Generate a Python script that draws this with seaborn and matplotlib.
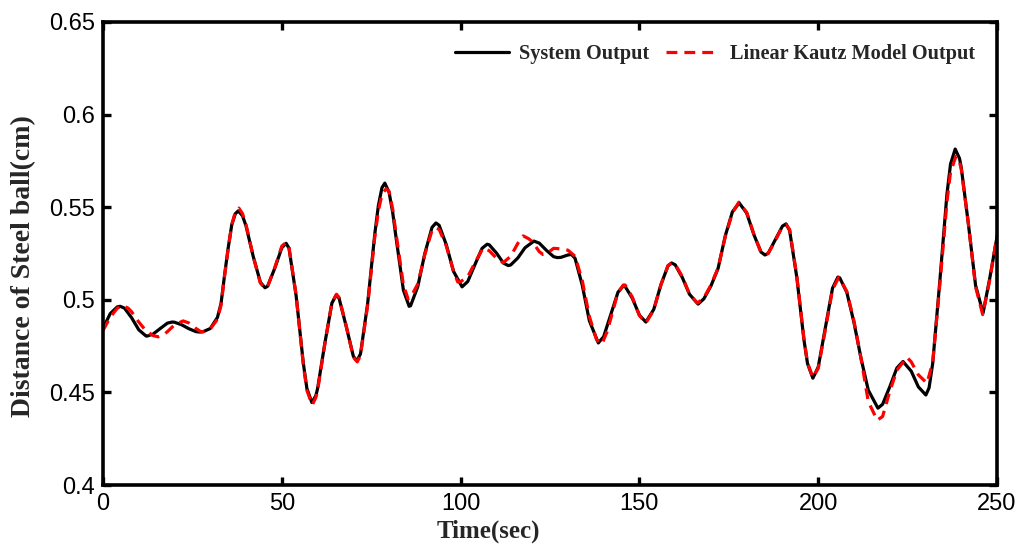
import numpy as np
import pandas as pd
import matplotlib
matplotlib.use("Agg")
import matplotlib.pyplot as plt
import seaborn as sns

# Measured steel-ball distance (cm) against time (sec)
system_time = [
    0, 2, 4, 4.8, 6, 8, 10, 12, 12.3, 14, 16, 18, 19.3, 20, 22, 24, 26, 27, 28, 30,
    32, 33, 34, 35, 36, 37, 37.8, 39, 40, 42, 44, 45.3, 46, 48, 50, 51.2, 52, 54, 56, 57,
    58.4, 59.5, 60, 62, 64, 65.2, 66, 68, 70, 71, 72, 74, 76, 77, 78, 78.8, 80, 81, 82, 84,
    85.6, 86, 88, 90, 92, 93.1, 94, 96, 98, 100.4, 102, 104, 106, 107.4, 108, 110, 112, 113.3, 114, 116,
    118, 120.5, 122, 124, 126, 127, 128, 130, 131, 132, 134, 136, 138.5, 140, 142, 144, 145.5, 146, 148, 150,
    151.8, 154, 156, 158, 159, 160, 162, 164, 166.4, 168, 170, 172, 174, 176, 177.9, 180, 182, 184, 185.1, 186,
    188, 190, 191, 192, 194, 196, 197, 198.5, 200, 202, 204, 205.5, 206, 208, 210, 212, 214, 216.7, 218, 220,
    222, 223.7, 226, 228, 230.1, 231, 232, 234, 236, 237, 238.3, 239.5, 240, 242, 244, 246.1, 248, 250,
]
system_output = [
    0.4845, 0.4925, 0.4962, 0.4965, 0.4955, 0.4903, 0.4838, 0.4805, 0.4804, 0.4815,
    0.4845, 0.4874, 0.4880, 0.4879, 0.4865, 0.4844, 0.4828, 0.4826, 0.4828, 0.4845,
    0.4905, 0.4980, 0.5135, 0.5280, 0.5405, 0.5465, 0.5480, 0.5454, 0.5398, 0.5234,
    0.5095, 0.5065, 0.5073, 0.5169, 0.5281, 0.5305, 0.5279, 0.5022, 0.4660, 0.4522,
    0.4445, 0.4482, 0.4520, 0.4762, 0.4982, 0.5025, 0.5009, 0.4857, 0.4695, 0.4670,
    0.4708, 0.4980, 0.5356, 0.5509, 0.5605, 0.5630, 0.5580, 0.5472, 0.5328, 0.5052,
    0.4965, 0.4968, 0.5070, 0.5251, 0.5391, 0.5415, 0.5402, 0.5297, 0.5154, 0.5070,
    0.5099, 0.5190, 0.5278, 0.5300, 0.5297, 0.5253, 0.5198, 0.5185, 0.5188, 0.5226,
    0.5281, 0.5317, 0.5306, 0.5267, 0.5233, 0.5228, 0.5229, 0.5242, 0.5245, 0.5224,
    0.5080, 0.4887, 0.4767, 0.4801, 0.4921, 0.5041, 0.5075, 0.5072, 0.5009, 0.4917,
    0.4880, 0.4948, 0.5081, 0.5184, 0.5199, 0.5189, 0.5120, 0.5030, 0.4977, 0.5005,
    0.5075, 0.5170, 0.5345, 0.5475, 0.5523, 0.5468, 0.5352, 0.5258, 0.5242, 0.5251,
    0.5324, 0.5398, 0.5410, 0.5374, 0.5123, 0.4785, 0.4656, 0.4577, 0.4637, 0.4850,
    0.5063, 0.5123, 0.5119, 0.5040, 0.4877, 0.4681, 0.4512, 0.4415, 0.4436, 0.4530,
    0.4632, 0.4667, 0.4615, 0.4530, 0.4486, 0.4525, 0.4655, 0.5100, 0.5572, 0.5733,
    0.5814, 0.5764, 0.5714, 0.5408, 0.5078, 0.4929, 0.5120, 0.5340,
]

# Linear Kautz model prediction (cm) against time (sec)
kautz_time = [
    0, 2, 4, 5.5, 7, 8, 10, 12, 14, 15.4, 17, 18, 20, 22.4, 24, 26, 27.5, 29, 30, 32,
    33, 34, 35, 36, 37, 38, 39, 40, 42, 44, 45.3, 46, 48, 50, 51.2, 52, 54, 56, 57, 58.5,
    59.5, 60, 62, 64, 65.3, 66, 68, 70, 71.1, 72, 74, 76, 77, 78, 79.2, 80, 81, 82, 84, 85.3,
    86, 88, 90, 92, 93, 94, 96, 98, 99.2, 100, 102, 104, 106.3, 108, 110, 111.9, 114, 116, 117.5, 119,
    120, 122, 123, 124, 126, 128, 130, 132, 134, 136, 138, 139.5, 141, 142, 144, 145.5, 146, 148, 150, 151.8,
    154, 156, 158, 159.2, 160, 162, 164, 166.2, 168, 170, 172, 174, 176, 177.8, 180, 182, 184, 185, 186, 188,
    190, 191, 192, 194, 196, 197, 198.5, 200, 202, 204, 205.7, 206, 208, 210, 212, 214, 216.5, 218, 220, 222,
    224.8, 226, 228, 230.4, 232, 234, 236, 237, 238.5, 239.5, 240, 242, 244, 246, 248, 250,
]
kautz_output = [
    0.4835, 0.4905, 0.4955, 0.4970, 0.4955, 0.4935, 0.4880, 0.4833, 0.4807, 0.4800,
    0.4812, 0.4828, 0.4865, 0.4886, 0.4875, 0.4845, 0.4826, 0.4833, 0.4843, 0.4895,
    0.4970, 0.5130, 0.5275, 0.5405, 0.5475, 0.5495, 0.5465, 0.5405, 0.5235, 0.5090,
    0.5062, 0.5070, 0.5172, 0.5290, 0.5310, 0.5285, 0.5025, 0.4650, 0.4512, 0.4432,
    0.4472, 0.4510, 0.4758, 0.4985, 0.5030, 0.5012, 0.4860, 0.4690, 0.4665, 0.4700,
    0.4970, 0.5340, 0.5480, 0.5570, 0.5600, 0.5585, 0.5490, 0.5350, 0.5080, 0.5005,
    0.5012, 0.5085, 0.5245, 0.5375, 0.5390, 0.5380, 0.5290, 0.5155, 0.5096, 0.5098,
    0.5125, 0.5200, 0.5280, 0.5265, 0.5225, 0.5200, 0.5235, 0.5305, 0.5345, 0.5330,
    0.5315, 0.5260, 0.5245, 0.5248, 0.5278, 0.5275, 0.5268, 0.5235, 0.5105, 0.4910,
    0.4785, 0.4760, 0.4830, 0.4900, 0.5040, 0.5080, 0.5080, 0.5015, 0.4915, 0.4875,
    0.4945, 0.5080, 0.5185, 0.5200, 0.5192, 0.5125, 0.5030, 0.4982, 0.5010, 0.5080,
    0.5172, 0.5340, 0.5470, 0.5527, 0.5472, 0.5355, 0.5255, 0.5248, 0.5250, 0.5320,
    0.5395, 0.5405, 0.5380, 0.5130, 0.4790, 0.4660, 0.4580, 0.4630, 0.4840, 0.5055,
    0.5120, 0.5115, 0.5045, 0.4885, 0.4680, 0.4450, 0.4350, 0.4370, 0.4505, 0.4620,
    0.4690, 0.4665, 0.4595, 0.4550, 0.4660, 0.5080, 0.5530, 0.5690, 0.5775, 0.5745,
    0.5705, 0.5410, 0.5070, 0.4920, 0.5110, 0.5350,
]

x_ticks = [0, 50, 100, 150, 200, 250]
y_ticks = [0.4, 0.45, 0.5, 0.55, 0.6, 0.65]
y_tick_labels = ["0.4", "0.45", "0.5", "0.55", "0.6", "0.65"]

system_df = pd.DataFrame({"t": system_time, "v": system_output})
kautz_df = pd.DataFrame({"t": kautz_time, "v": kautz_output})

sns.set_style("ticks")
plt.rcParams["font.family"] = ["Liberation Sans", "DejaVu Sans"]

fig = plt.figure(figsize=(10.18, 5.47), dpi=100)
ax = fig.add_axes([0.1012, 0.1133, 0.8782, 0.8465])

sns.lineplot(data=system_df, x="t", y="v", ax=ax, color="black", linewidth=2.3,
             label="System Output", estimator=None, sort=False)
sns.lineplot(data=kautz_df, x="t", y="v", ax=ax, color="#ff0000", linewidth=2.3,
             label="Linear Kautz Model Output", estimator=None, sort=False)
ax.lines[1].set_dashes([3.4, 2.2])
for ln in ax.lines:
    ln.set_solid_joinstyle("round")
    ln.set_dash_joinstyle("round")

ax.set_xlim(0, 250)
ax.set_ylim(0.4, 0.65)
ax.set_xticks(x_ticks)
ax.set_xticklabels([str(v) for v in x_ticks])
ax.set_yticks(y_ticks)
ax.set_yticklabels(y_tick_labels)

for side in ["left", "right", "top", "bottom"]:
    ax.spines[side].set_visible(True)
    ax.spines[side].set_linewidth(2.6)
    ax.spines[side].set_color("black")

ax.tick_params(axis="both", which="major", direction="in", length=6, width=2.4,
               labelsize=17, top=True, right=True, pad=6, colors="black")

serif_bold = {"family": ["Liberation Serif", "DejaVu Serif"], "weight": "bold"}
ax.set_xlabel("Time(sec)", fontdict={**serif_bold, "size": 18})
ax.set_ylabel("Distance of Steel ball(cm)", fontdict={**serif_bold, "size": 20})
ax.xaxis.set_label_coords(0.431, -0.075)
ax.yaxis.set_label_coords(-0.075, 0.473)

handles, labels = ax.get_legend_handles_labels()
ax.legend(handles, labels, loc="upper right", ncol=2, frameon=False,
          prop={"family": ["Liberation Serif"], "weight": "bold", "size": 14.6},
          handlelength=2.65, handletextpad=0.5, columnspacing=0.8,
          borderaxespad=0.7)

fig.savefig("out.png", dpi=100)
